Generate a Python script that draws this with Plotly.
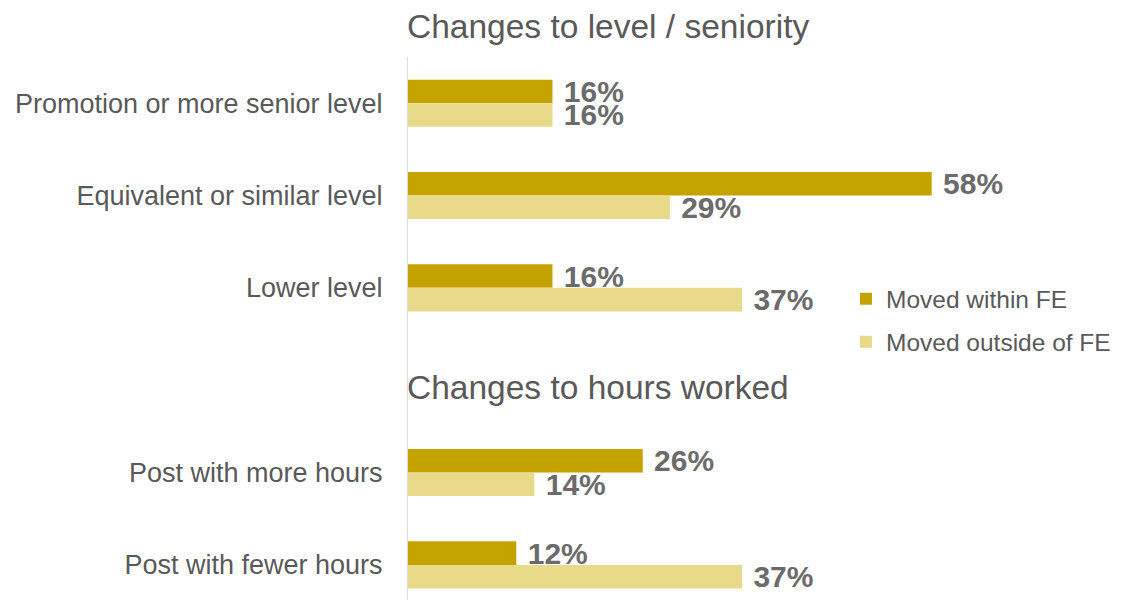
"""Grouped horizontal bars: job moves by level and hours, within vs outside FE."""

import plotly.graph_objects as go


CATEGORIES = [
    "Promotion or more senior level",
    "Equivalent or similar level",
    "Lower level",
    " ",
    "Post with more hours",
    "Post with fewer hours",
]
WITHIN_FE = [16, 58, 16, None, 26, 12]
OUTSIDE_FE = [16, 29, 37, None, 14, 37]
SERIES_NAMES = ["Moved within FE", "Moved outside of FE"]
HEADERS = ["Changes to level / seniority", "Changes to hours worked"]

DARK = "#C4A300"
LIGHT = "#E8DA88"
TEXT_GREY = "#595959"
LABEL_GREY = "#6B6B6B"
FONT = "Liberation Sans, Arial, sans-serif"

# page body has an 8px margin, so the figure is sized to what remains visible
FIG_W = 1113
FIG_H = 592
TOP = 49
PLOT_H = FIG_H - TOP


def bar_trace(name, values, color):
    labels = [f"\u00a0<b>{v}%</b>" if v is not None else "" for v in values]
    return go.Bar(
        y = CATEGORIES,
        x = values,
        name = name,
        legendgroup = name,
        orientation = 'h',
        marker = dict(color = color, line = dict(width = 0)),
        text = labels,
        textposition = 'outside',
        constraintext = 'none',
        cliponaxis = False,
        textfont = dict(family = FONT, size = 30, color = LABEL_GREY),
        hoverinfo = 'skip',
    )


def build_figure():
    fig = go.Figure()
    fig.add_trace(bar_trace(SERIES_NAMES[0], WITHIN_FE, DARK))
    fig.add_trace(bar_trace(SERIES_NAMES[1], OUTSIDE_FE, LIGHT))

    # section headers, placed in pixel terms above each group
    for text, ypix in zip(HEADERS, [19, 379]):
        fig.add_annotation(
            text = text, xref = 'paper', yref = 'paper', x = 0, xshift = -3,
            y = 1 - (ypix - TOP) / PLOT_H,
            xanchor = 'left', yanchor = 'middle', showarrow = False,
            font = dict(family = FONT, size = 33.5, color = TEXT_GREY),
        )

    fig.update_layout(
        barmode = 'group',
        bargap = 0.49,
        bargroupgap = 0,
        width = FIG_W,
        height = FIG_H,
        margin = dict(l = 400, r = 81, t = TOP, b = 0, autoexpand = False),
        paper_bgcolor = 'white',
        plot_bgcolor = 'white',
        font = dict(family = FONT, color = TEXT_GREY),
        xaxis = dict(
            range = [0, 70], showgrid = False, zeroline = False,
            showticklabels = False, showline = False, fixedrange = True,
        ),
        yaxis = dict(
            type = 'category',
            categoryorder = 'array',
            categoryarray = CATEGORIES,
            range = [5.38, -0.5],
            showline = True, linecolor = '#D9D9D9', linewidth = 1,
            showgrid = False, zeroline = False,
            ticks = '', ticklabelstandoff = 19,
            tickfont = dict(family = FONT, size = 27, color = TEXT_GREY),
        ),
        legend = dict(
            xref = 'paper', yref = 'paper',
            x = 0.693, y = 0.596, xanchor = 'left', yanchor = 'top',
            font = dict(family = FONT, size = 24.5, color = TEXT_GREY),
            bgcolor = 'rgba(0,0,0,0)',
            borderwidth = 0,
            traceorder = 'grouped',
            tracegroupgap = 8,
            itemclick = False,
        ),
        showlegend = True,
    )
    return fig


def main():
    fig = build_figure()
    fig.write_html("out.html")


if __name__ == '__main__':
    main()
